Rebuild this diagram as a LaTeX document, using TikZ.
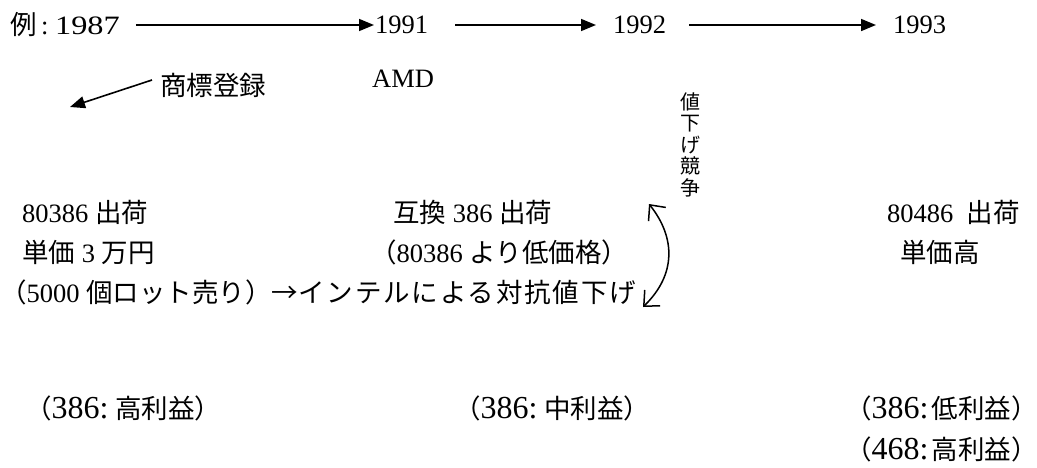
\documentclass[tikz,border=0pt]{standalone}
\usepackage{fontspec}
\setmainfont{Liberation Serif}
\newfontfamily\jpfont{Noto Sans CJK JP}
\usetikzlibrary{arrows.meta}
\newcommand\J[1]{{\jpfont #1}}
\newcommand\BigNum[1]{{\fontsize{32}{34}\selectfont #1}}
\begin{document}
\begin{tikzpicture}[x=1pt,y=-1pt,
  txt/.style={inner sep=0pt, anchor=west, font=\fontsize{26.5}{30}\selectfont},
  tl/.style={line width=1.6pt, -{Triangle[length=15pt,width=12pt]}},
  curv/.style={line width=1.5pt, {Straight Barb[length=12pt,width=22pt]}-{Straight Barb[length=12pt,width=22pt]}}]
\useasboundingbox (0,0) rectangle (1037,467);
% timeline
\node[txt] (t1) at (10,25) {\J{例}\,:\ \scalebox{1.22}[1]{1987}};
\node[txt] (t2) at (375,25) {1991};
\node[txt] (t3) at (613,25) {1992};
\node[txt] (t4) at (893,25) {1993};
\draw[tl, shorten <=16pt, shorten >=1pt] (t1) -- (t2);
\draw[tl, shorten <=27pt, shorten >=17pt] (t2) -- (t3);
\draw[tl, shorten <=23pt, shorten >=17pt] (t3) -- (t4);
\node[txt] (amd) at (372,79) {AMD};
\node[txt] (sh) at (160,85) {\J{商標登録}};
\coordinate (trade) at (70,107);
\draw[line width=1.6pt, -{Triangle[length=15pt,width=12pt]}] (sh.west) ++(-8,-5) -- (trade);
% vertical label
\node[inner sep=0pt, anchor=north, align=center, font=\fontsize{20}{21.5}\selectfont\jpfont] (vt) at (690,92) {値\\下\\げ\\競\\争};
% rows
\node[txt] (r1a) at (22,212) {80386 \J{出荷}};
\node[txt] (r2a) at (22,252) {\J{単価} 3 \J{万円}};
\node[txt] (r3) at (0,292) {\J{（}5000 \J{個ロット売り）→{\addfontfeature{LetterSpace=7}インテルによる対抗値下げ}}};
\node[txt] (r1b) at (393,212) {\J{互換} 386 \J{出荷}};
\node[txt] (r2b) at (370,252) {\J{（}80386 \J{より低価格）}};
\node[txt] (r1c) at (887,212) {80486\ \ \J{出荷}};
\node[txt] (r2c) at (900,252) {\J{単価高}};
% double arrow
\coordinate (ct) at (649,204);
\coordinate (cb) at (643,307);
\draw[curv] (ct) .. controls (676,238) and (676,275) .. (cb);
% bottom
\node[txt] (b1) at (25,408) {\J{（}\BigNum{386:}\ \J{高利益）}\hspace{-12pt}};
\node[txt] (b2) at (454,408) {\J{（}\BigNum{386:}\ \J{中利益）}\hspace{-12pt}};
\node[txt] (b3) at (845,408) {\J{（}\BigNum{386:}\hspace{3pt}\J{低利益）}\hspace{-12pt}};
\node[txt] (b4) at (845,449) {\J{（}\BigNum{468:}\hspace{3pt}\J{高利益）}\hspace{-12pt}};
\end{tikzpicture}
\end{document}
